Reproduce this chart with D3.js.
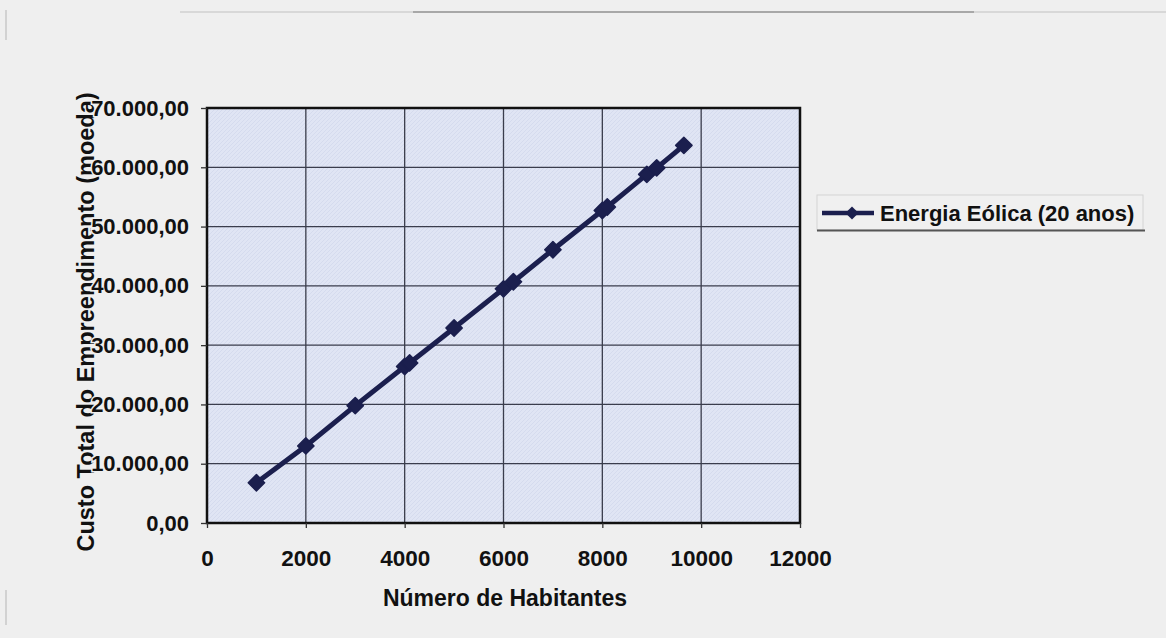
<!DOCTYPE html>
<html>
<head>
<meta charset="utf-8">
<script src="https://cdn.jsdelivr.net/npm/d3@7"></script>
<style>
	body { margin: 0; background: #efefef; }
	svg { display: block; }
	text { font-family: "Liberation Sans", Arial, sans-serif; font-weight: bold; fill: #111; }
</style>
</head>
<body>
<div id="chart"></div>
<script>

// data
var habitantes = [1000, 2000, 3000, 4000, 4100, 5000, 6000, 6200, 7000, 8000, 8100, 8900, 9100, 9650];
var custo = [6800, 13000, 19800, 26400, 27000, 32900, 39500, 40700, 46100, 52700, 53300, 58800, 59900, 63700];
var xTicks = [0, 2000, 4000, 6000, 8000, 10000, 12000];
var yTicks = [0, 10000, 20000, 30000, 40000, 50000, 60000, 70000];
var serieNome = "Energia Eólica (20 anos)";

// chart options
var width = 1166, height = 638;
var plot = { left: 207, right: 800, top: 108, bottom: 523 };
var navy = "#1b1f4e";
var bg = "#efefef";

var svg = d3.select("#chart").append("svg")
	.attr("width", width)
	.attr("height", height);

// faint scan lines round the edge
svg.append("line").attr("x1", 180).attr("x2", 1166).attr("y1", 12).attr("y2", 12)
	.attr("stroke", "#d0d0d0").attr("stroke-width", 1.5);
svg.append("line").attr("x1", 413).attr("x2", 974).attr("y1", 12).attr("y2", 12)
	.attr("stroke", "#a8a8a8").attr("stroke-width", 1.8);
svg.append("line").attr("x1", 6).attr("x2", 6).attr("y1", 10).attr("y2", 40)
	.attr("stroke", "#c8c8c8").attr("stroke-width", 1.5);
svg.append("line").attr("x1", 6).attr("x2", 6).attr("y1", 590).attr("y2", 625)
	.attr("stroke", "#c8c8c8").attr("stroke-width", 1.5);

// hatch texture for the plot area
var defs = svg.append("defs");
var pat = defs.append("pattern")
	.attr("id", "hatch")
	.attr("width", 4).attr("height", 4)
	.attr("patternUnits", "userSpaceOnUse");
pat.append("rect").attr("width", 4).attr("height", 4).attr("fill", "#e0e5f4");
pat.append("path").attr("d", "M0,4 L4,0").attr("stroke", "#d5dbee").attr("stroke-width", 1);

var x = d3.scaleLinear().domain([0, 12000]).range([plot.left, plot.right]);
var y = d3.scaleLinear().domain([0, 70000]).range([plot.bottom, plot.top]);

// y title goes first, the tick labels sit on top of it
svg.append("text")
	.attr("transform", "translate(94," + 322 + ") rotate(-90)")
	.attr("text-anchor", "middle").attr("font-size", "23.5px")
	.text("Custo Total do Empreendimento (moeda)");

svg.append("rect")
	.attr("x", plot.left).attr("y", plot.top)
	.attr("width", plot.right - plot.left)
	.attr("height", plot.bottom - plot.top)
	.attr("fill", "url(#hatch)");

// gridlines
svg.append("g").selectAll("line.gx")
	.data(xTicks.slice(1, -1))
	.enter().append("line")
	.attr("x1", function(d) { return x(d); }).attr("x2", function(d) { return x(d); })
	.attr("y1", plot.top).attr("y2", plot.bottom)
	.attr("stroke", "#3a3d4c").attr("stroke-width", 1.3);
svg.append("g").selectAll("line.gy")
	.data(yTicks.slice(1, -1))
	.enter().append("line")
	.attr("x1", plot.left).attr("x2", plot.right)
	.attr("y1", function(d) { return y(d); }).attr("y2", function(d) { return y(d); })
	.attr("stroke", "#3a3d4c").attr("stroke-width", 1.3);

svg.append("rect")
	.attr("x", plot.left).attr("y", plot.top)
	.attr("width", plot.right - plot.left)
	.attr("height", plot.bottom - plot.top)
	.attr("fill", "none").attr("stroke", "#111").attr("stroke-width", 2.5);

// axes
var fmtY = function(d) {
	return d3.format(",.2f")(d).replace(/,/g, "#").replace(".", ",").replace(/#/g, ".");
};
var yAxis = svg.append("g")
	.attr("transform", "translate(" + plot.left + ",0)")
	.call(d3.axisLeft(y).tickValues(yTicks).tickFormat(fmtY).tickSize(6).tickPadding(12));
var xAxis = svg.append("g")
	.attr("transform", "translate(0," + plot.bottom + ")")
	.call(d3.axisBottom(x).tickValues(xTicks).tickFormat(d3.format("d")).tickSize(5).tickPadding(22));
[yAxis, xAxis].forEach(function(a) {
	a.select(".domain").remove();
	a.selectAll(".tick line").attr("stroke", "#333").attr("stroke-width", 1.3);
	a.selectAll("text").attr("fill", "#111").attr("font-size", "22.5px")
		.attr("font-family", "Liberation Sans, Arial, sans-serif").attr("font-weight", "bold");
});
yAxis.selectAll("text").attr("font-size", "22px")
	.attr("stroke", bg).attr("stroke-width", 3).attr("paint-order", "stroke");

svg.append("text")
	.attr("x", 505).attr("y", 606)
	.attr("text-anchor", "middle").attr("font-size", "23px")
	.text("Número de Habitantes");

// series
var pts = habitantes.map(function(h, i) { return [h, custo[i]]; });
var line = d3.line()
	.x(function(d) { return x(d[0]); })
	.y(function(d) { return y(d[1]); });
svg.append("path")
	.datum(pts)
	.attr("d", line)
	.attr("fill", "none").attr("stroke", navy).attr("stroke-width", 5);

var diamond = d3.symbol().type(d3.symbolDiamond2).size(170);
svg.append("g").selectAll("path")
	.data(pts)
	.enter().append("path")
	.attr("d", diamond)
	.attr("transform", function(d) { return "translate(" + x(d[0]) + "," + y(d[1]) + ")"; })
	.attr("fill", navy)
	.attr("stroke", navy).attr("stroke-width", 1.5).attr("stroke-linejoin", "round");

// legend
var lg = svg.append("g");
lg.append("rect")
	.attr("x", 817).attr("y", 195).attr("width", 326).attr("height", 35)
	.attr("fill", "#f0f0f0").attr("stroke", "#d4d4d4").attr("stroke-width", 1);
lg.append("line").attr("x1", 817).attr("x2", 1145).attr("y1", 230.5).attr("y2", 230.5)
	.attr("stroke", "#555").attr("stroke-width", 1.8);
lg.append("line").attr("x1", 822).attr("x2", 874).attr("y1", 213).attr("y2", 213)
	.attr("stroke", navy).attr("stroke-width", 4.5);
lg.append("path").attr("d", d3.symbol().type(d3.symbolDiamond2).size(110))
	.attr("transform", "translate(852,213)").attr("fill", navy);
lg.append("text")
	.attr("x", 880).attr("y", 221)
	.attr("font-size", "22px")
	.text(serieNome);

</script>
</body>
</html>
